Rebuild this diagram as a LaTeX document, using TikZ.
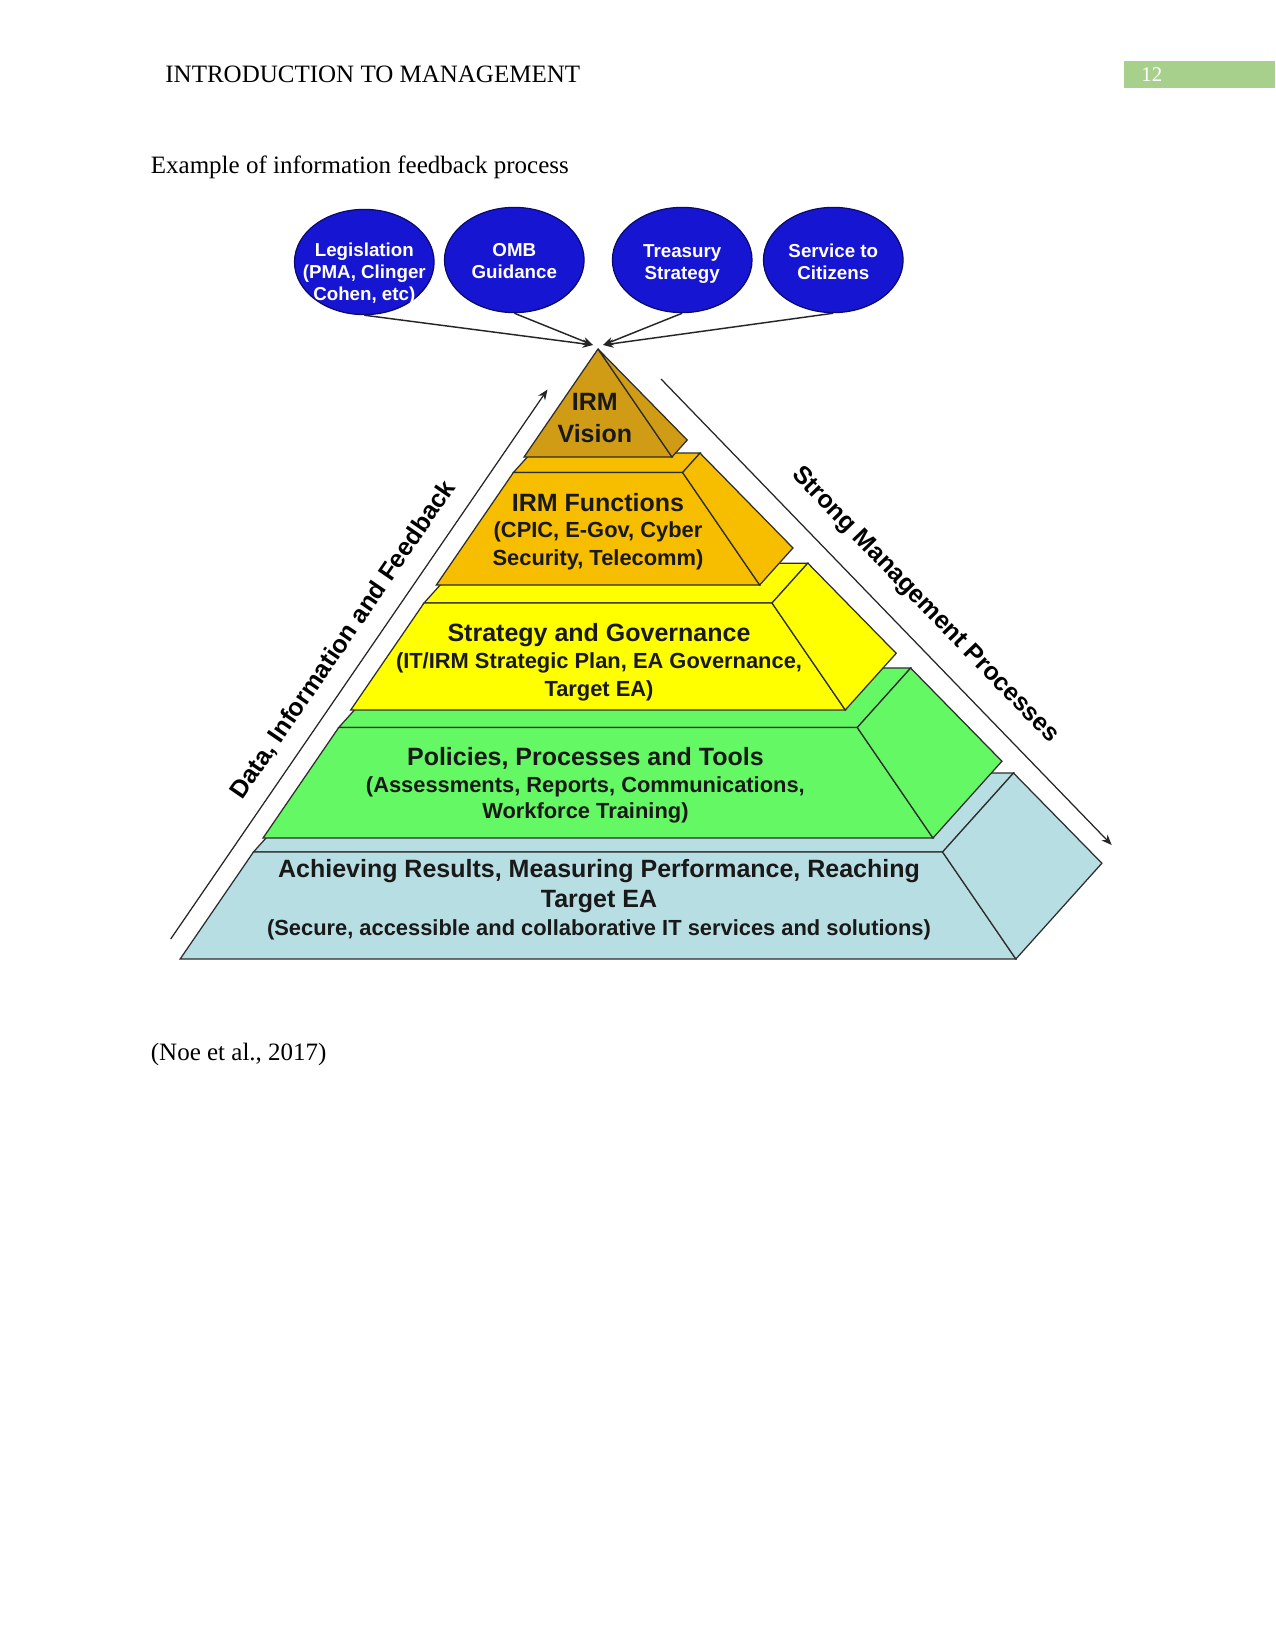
\documentclass[tikz,border=0pt]{standalone}
\usepackage{fontspec}
\setmainfont{Liberation Serif}
\newfontfamily\lsans{Liberation Sans}
\usetikzlibrary{shapes.geometric,arrows.meta}
\definecolor{vgold}{RGB}{208,156,22}
\definecolor{torange}{RGB}{247,190,0}
\definecolor{tyellow}{RGB}{255,255,0}
\definecolor{tgreen}{RGB}{100,248,100}
\definecolor{tblue}{RGB}{183,222,226}
\definecolor{pagegreen}{RGB}{168,208,141}
\definecolor{bubfill}{RGB}{22,22,210}
\definecolor{bubline}{RGB}{10,10,110}
\definecolor{edge}{RGB}{45,45,45}
\definecolor{tiertext}{RGB}{25,25,25}
\newcommand\pyrtier[3]{%
  \pgfmathsetmacro\pta{#1-349}%
  \pgfmathsetmacro\ptb{#2-349}%
  \filldraw[tier,fill=#3] ({598-0.685*\pta},#1) -- ({598-0.544*\pta},{#1-0.157*\pta}) -- ({598+0.826*\pta},{#1-0.157*\pta}) -- ({598+0.685*\pta},#1) -- cycle;
  \filldraw[tier,fill=#3] ({598-0.685*\pta},#1) -- ({598+0.685*\pta},#1) -- ({598+0.685*\ptb},#2) -- ({598-0.685*\ptb},#2) -- cycle;
  \filldraw[tier,fill=#3] ({598+0.685*\pta},#1) -- ({598+0.826*\pta},{#1-0.157*\pta}) -- ({598+0.826*\ptb},{#2-0.157*\ptb}) -- ({598+0.685*\ptb},#2) -- cycle;
}
\tikzset{
  tier/.style={draw=edge, line width=0.6pt, line join=miter},
  bubble/.style={ellipse, fill=bubfill, draw=bubline, line width=0.6pt, minimum width=67pt, minimum height=50.5pt, inner sep=0pt},
  bubtext/.style={text=white, align=center, font=\lsans\bfseries\fontsize{9}{10.6}\selectfont, inner sep=0pt},
  pointer/.style={draw=black!85, line width=0.7pt, -{Stealth[length=5pt,width=4pt]}},
  flow/.style={draw=black!85, line width=0.6pt, -{Stealth[length=5pt,width=4pt]}},
  ttitle/.style={text=tiertext, font=\lsans\bfseries\fontsize{12}{14}\selectfont, inner sep=0pt},
  tsub/.style={text=tiertext, font=\lsans\bfseries\fontsize{10.5}{12}\selectfont, inner sep=0pt},
  sidelabel/.style={text=black, font=\lsans\bfseries\fontsize{12}{14}\selectfont, inner sep=0pt},
  pagetext/.style={font=\fontsize{12}{14}\selectfont, inner sep=0pt, anchor=base west},
}
\begin{document}
\begin{tikzpicture}[x=0.48pt, y=-0.48pt]
\fill[white] (0,0) rectangle (1275,1651);
\useasboundingbox (0,0) rectangle (1275,1651);

% page header and texts
\node[pagetext] (hdr) at (165,83) {INTRODUCTION TO MANAGEMENT};
\fill[pagegreen] (1124,61) rectangle (1275,88);
\node[pagetext, text=white, font=\fontsize{10}{12}\selectfont] (pg) at (1141,82) {12};
\node[pagetext] (cap) at (150.5,173.5) {Example of information feedback process};
\node[pagetext] (src) at (150.5,1060) {(Noe et al., 2017)};

% pyramid tiers (bottom to top)
\pyrtier{852}{959}{tblue}
\pyrtier{727.5}{838}{tgreen}
\pyrtier{603}{710}{tyellow}
\pyrtier{472.5}{585}{torange}
\filldraw[tier,fill=vgold] (598,349) -- ({598-0.685*108},457) -- ({598+0.685*108},457) -- cycle;
\filldraw[tier,fill=vgold] (598,349) -- ({598+0.826*108},{457-0.157*108}) -- ({598+0.685*108},457) -- cycle;

% tier texts
\node[ttitle] (v1) at (594.8,402) {IRM};
\node[ttitle] (v2) at (594.8,433.5) {Vision};
\node[ttitle] (f1) at (598,503) {IRM Functions};
\node[tsub] (f2) at (598,531.5) {(CPIC, E-Gov, Cyber};
\node[tsub] (f3) at (598,559.5) {Security, Telecomm)};
\node[ttitle] (s1) at (599,635) {Strategy and Governance};
\node[tsub] (s2) at (599,663) {(IT/IRM Strategic Plan, EA Governance,};
\node[tsub] (s3) at (599,690.5) {Target EA)};
\node[ttitle] (p1) at (585.4,758) {Policies, Processes and Tools};
\node[tsub] (p2) at (585.4,786.5) {(Assessments, Reports, Communications,};
\node[tsub] (p3) at (585.4,812.5) {Workforce Training)};
\node[ttitle] (a1) at (599,871) {Achieving Results, Measuring Performance, Reaching};
\node[ttitle] (a2) at (599,901.5) {Target EA};
\node[tsub] (a3) at (599,929.5) {(Secure, accessible and collaborative IT services and solutions)};

% side arrows and labels
\coordinate (fbs) at (170.7,939);
\coordinate (fbe) at (547.5,389.5);
\draw[flow] (fbs) -- (fbe);
\coordinate (mgs) at (661,379);
\coordinate (mge) at (1111.7,845);
\draw[flow] (mgs) -- (mge);
\node[sidelabel, rotate=55.6] (fbl) at (343.5,640) {Data, Information and Feedback};
\node[sidelabel, rotate=-46] (mgl) at (924.9,605.4) {Strong Management Processes};

% bubbles
\node[bubble] (leg) at (364.3,262) {};
\node[bubtext] (legt) at (364.3,273.5) {Legislation\\(PMA, Clinger\\Cohen, etc)};
\node[bubble] (omb) at (514.3,260) {};
\node[bubtext] (ombt) at (514.3,261.5) {OMB\\Guidance};
\node[bubble] (tre) at (682.2,260) {};
\node[bubtext] (tret) at (682.2,264) {Treasury\\Strategy};
\node[bubble] (ser) at (833.3,260) {};
\node[bubtext] (sert) at (833.3,261.5) {Service to\\Citizens};

% pointers to apex
\coordinate (tipL) at (593,345);
\coordinate (tipR) at (603,345);
\draw[pointer] (leg.south) -- (tipL);
\draw[pointer] (omb.south) -- (tipL);
\draw[pointer] (tre.south) -- (tipR);
\draw[pointer] (ser.south) -- (tipR);
\end{tikzpicture}
\end{document}
